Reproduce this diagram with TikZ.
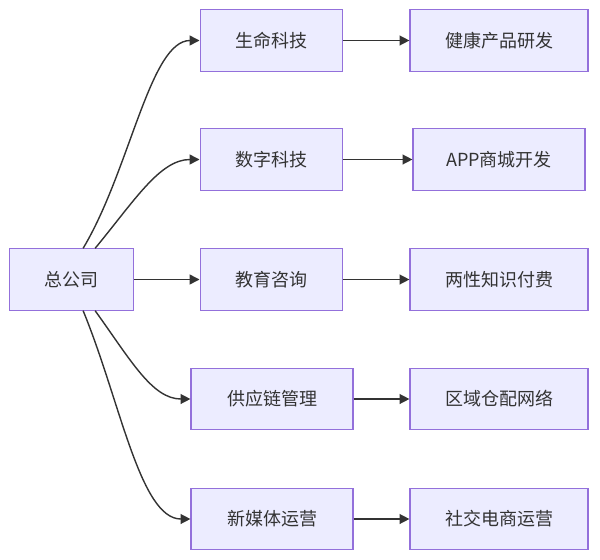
\documentclass[tikz,border=0pt]{standalone}
\usepackage{fontspec}
\setmainfont{Noto Sans CJK SC}
\usetikzlibrary{arrows.meta}

\definecolor{boxfill}{HTML}{ECECFF}
\definecolor{boxline}{HTML}{9370DB}
\definecolor{ink}{HTML}{333333}

\begin{document}
\begin{tikzpicture}[x=0.025cm, y=-0.025cm,
  edge/.style={draw=ink, line width=1pt, -{Triangle[length=7pt, width=7pt]}}]

  \useasboundingbox (0,0) rectangle (600,560);

  % Cajas
  \begin{scope}[every node/.style={rectangle, draw=boxline, fill=boxfill, line width=0.8pt,
      text=ink, font=\fontsize{12.8}{15}\selectfont, minimum height=1.53cm, inner sep=0pt}]
    \node[minimum width=3.12cm] (hq) at (71.5,279.5) {总公司};

    \node[minimum width=3.57cm] (a) at (271.5,40.5) {生命科技};
    \node[minimum width=3.57cm] (b) at (271.5,159.5) {数字科技};
    \node[minimum width=3.57cm] (c) at (271.5,279.5) {教育咨询};
    \node[minimum width=4.05cm] (d) at (272,399) {供应链管理};
    \node[minimum width=4.05cm] (e) at (272,519) {新媒体运营};

    \node[minimum width=4.45cm] (a2) at (499,40.5) {健康产品研发};
    \node[minimum width=4.3cm] (b2) at (499,159.5) {APP商城开发};
    \node[minimum width=4.45cm] (c2) at (499,279.5) {两性知识付费};
    \node[minimum width=4.45cm] (d2) at (499,399) {区域仓配网络};
    \node[minimum width=4.45cm] (e2) at (499,519) {社交电商运营};
  \end{scope}

  % Desde la central
  \draw[edge] ([xshift=0.29cm]hq.north) .. controls (130,170) and (150,40.5) .. (a.west);
  \draw[edge] ([xshift=0.59cm]hq.north) .. controls (135,200) and (160,159.5) .. (b.west);
  \draw[edge] (hq.east) -- (c.west);
  \draw[edge] ([xshift=0.59cm]hq.south) .. controls (130,359) and (152,399) .. (d.west);
  \draw[edge] ([xshift=0.29cm]hq.south) .. controls (120,400) and (140,519) .. (e.west);

  % Segunda columna
  \draw[edge] (a) -- (a2);
  \draw[edge] (b) -- (b2);
  \draw[edge] (c) -- (c2);
  \draw[edge] (d) -- (d2);
  \draw[edge] (e) -- (e2);

\end{tikzpicture}
\end{document}
